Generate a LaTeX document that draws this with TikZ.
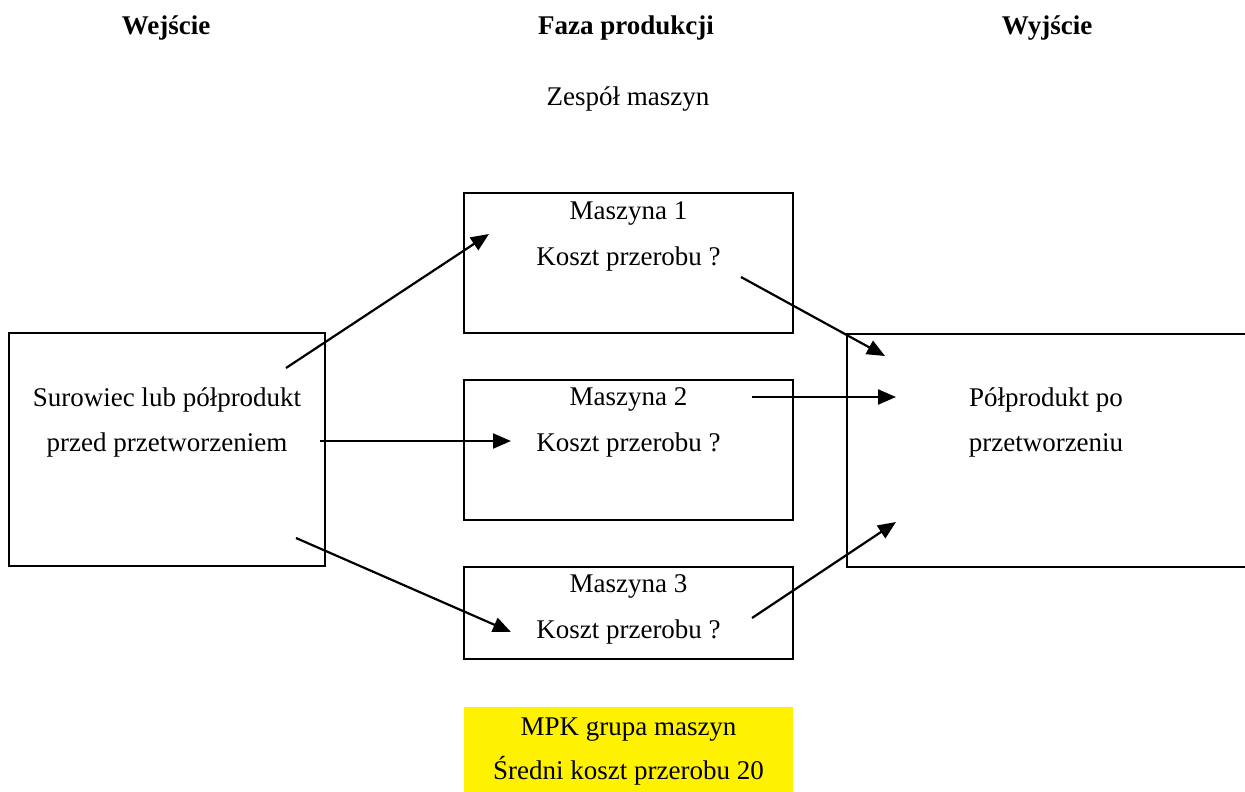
\documentclass[tikz,border=0pt]{standalone}
\usepackage{fontspec}
\setmainfont{Liberation Serif}
\usetikzlibrary{arrows.meta}
\begin{document}
\begin{tikzpicture}[x=1pt,y=-1pt,
  box/.style={draw,line width=2.2pt,rectangle,inner sep=0pt},
  txt/.style={font=\fontsize{27}{46}\selectfont,align=center,inner sep=0pt,anchor=base},
  head/.style={font=\fontsize{27}{30}\selectfont\bfseries,inner sep=0pt,anchor=base},
  flow/.style={line width=2.2pt,-{Triangle[length=18pt,width=15pt]}}]
\useasboundingbox (0,0) rectangle (1245,792);
\clip (0,0) rectangle (1245,792);

% column headings
\node[head] (hin)  at (166,35) {Wejście};
\node[head] (hmid) at (626,35) {Faza produkcji};
\node[head] (hout) at (1047,35) {Wyjście};
\node[txt]  (grp)  at (628,105) {Zespół maszyn};

% input and output boxes
\node[box,minimum width=316pt,minimum height=233pt] (in) at (167,449.5) {};
\node[box,minimum width=410pt,minimum height=233pt,anchor=north west] (out) at (846,333) {};
\node[txt] (intext1) at (167,406) {Surowiec lub półprodukt};
\node[txt] (intext2) at (167,451) {przed przetworzeniem};
\node[txt] (outtext1) at (1046,406) {Półprodukt po};
\node[txt] (outtext2) at (1046,451) {przetworzeniu};

% machines
\node[box,minimum width=329pt,minimum height=140pt] (m1) at (628.5,263) {};
\node[box,minimum width=329pt,minimum height=140pt] (m2) at (628.5,450) {};
\node[box,minimum width=329pt,minimum height=92pt]  (m3) at (628.5,613) {};
\node[txt] (m1a) at (628.5,219) {Maszyna 1};
\node[txt] (m1b) at (628.5,265) {Koszt przerobu ?};
\node[txt] (m2a) at (628.5,405) {Maszyna 2};
\node[txt] (m2b) at (628.5,451) {Koszt przerobu ?};
\node[txt] (m3a) at (628.5,592) {Maszyna 3};
\node[txt] (m3b) at (628.5,638) {Koszt przerobu ?};

% cost centre summary
\node[fill=yellow,minimum width=329pt,minimum height=90pt,inner sep=0pt,anchor=north west] (mpk) at (464,707) {};
\node[txt] (mpka) at (628.5,735) {MPK grupa maszyn};
\node[txt] (mpkb) at (628.5,779) {Średni koszt przerobu 20};

% connector end points
\coordinate (s1) at (286,368);  \coordinate (e1) at (489,234);
\coordinate (s2) at (320,441);  \coordinate (e2) at (511,441);
\coordinate (s3) at (296,538);  \coordinate (e3) at (511,632);
\coordinate (s4) at (741,277);  \coordinate (e4) at (885,356);
\coordinate (s5) at (752,397);  \coordinate (e5) at (896,397);
\coordinate (s6) at (752,618);  \coordinate (e6) at (896,522);

\draw[flow] (s1) -- (e1);
\draw[flow] (s2) -- (e2);
\draw[flow] (s3) -- (e3);
\draw[flow] (s4) -- (e4);
\draw[flow] (s5) -- (e5);
\draw[flow] (s6) -- (e6);
\end{tikzpicture}
\end{document}
